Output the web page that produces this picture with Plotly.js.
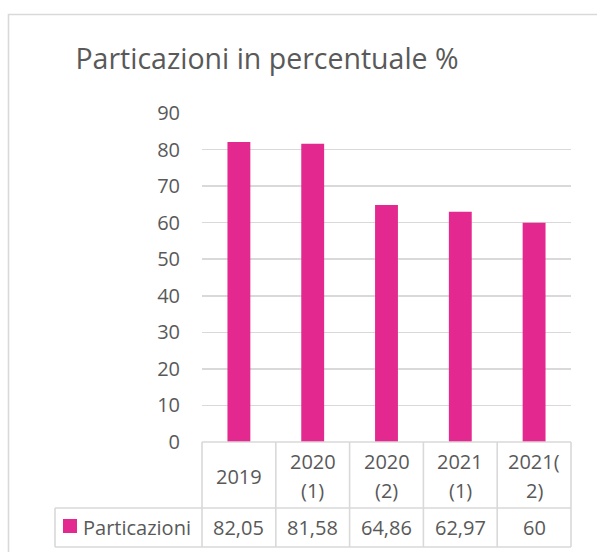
<!DOCTYPE html>
<html>
<head>
<meta charset="utf-8">
<script src="https://cdn.plot.ly/plotly-3.0.1.min.js"></script>
<style>html,body{margin:0;padding:0;background:#fff;}#chart{width:597px;height:552px;}</style>
</head>
<body>
<div id="chart"></div>
<script>
// ---- data ----
var categories = ["2019", "2020 (1)", "2020 (2)", "2021 (1)", "2021(2)"];
var headerLine1 = ["2019", "2020", "2020", "2021", "2021("];
var headerLine2 = ["", "(1)", "(2)", "(1)", "2)"];
var seriesName = "Particazioni";
var values = [82.05, 81.58, 64.86, 62.97, 60];
var valueLabels = ["82,05", "81,58", "64,86", "62,97", "60"];
var titleText = "Particazioni in percentuale %";

// ---- style ----
var W = 597, H = 552;
var mL = 202, mR = 26, mT = 113, mB = 110;
var plotW = W - mL - mR, plotH = H - mT - mB;
var textColor = "#595959";
var lineColor = "#D9D9D9";
var barColor = "#E3298F";
var FONT = "'Open Sans', Lato, sans-serif";
var FS = 20;

function xP(px) { return (px - mL) / plotW; }
function yP(py) { return (H - mB - py) / plotH; }
var n = categories.length;
function catEdge(i) { return i / n; } // paper position of category boundary

var shapes = [];
function line(x0, y0, x1, y1) {
  shapes.push({type: "line", xref: "paper", yref: "paper", x0: x0, y0: y0, x1: x1, y1: y1,
    line: {color: lineColor, width: 1.6}, layer: "above"});
}
// outer frame
shapes.push({type: "rect", xref: "paper", yref: "paper",
  x0: xP(8.5), y0: yP(600), x1: xP(650), y1: yP(14.5),
  line: {color: lineColor, width: 1.6}, fillcolor: "rgba(0,0,0,0)", layer: "below"});
// table
var rowMid = yP(508), rowBot = yP(547), rowTop = 0;
var legendLeft = xP(55);
line(0, rowTop, 1, rowTop);
line(legendLeft, rowMid, 1, rowMid);
line(legendLeft, rowBot, 1, rowBot);
line(legendLeft, rowMid, legendLeft, rowBot);
for (var i = 0; i <= n; i++) line(catEdge(i), rowTop, catEdge(i), rowBot);
// legend key
shapes.push({type: "rect", xref: "paper", yref: "paper",
  x0: xP(63), x1: xP(77), y0: yP(533), y1: yP(519),
  line: {width: 0}, fillcolor: barColor, layer: "above"});

var annotations = [];
function cellText(j, py, txt) {
  annotations.push({x: j, xref: "x", y: yP(py), yref: "paper", text: txt,
    showarrow: false, xanchor: "center", yanchor: "middle",
    font: {family: FONT, size: FS, color: textColor}});
}
for (var j = 0; j < n; j++) {
  if (headerLine2[j] === "") {
    cellText(j, 476, headerLine1[j]);
  } else {
    cellText(j, 462, headerLine1[j]);
    cellText(j, 490, headerLine2[j]);
  }
  cellText(j, 527, valueLabels[j]);
}
annotations.push({x: xP(81), xref: "paper", y: yP(527), yref: "paper", text: seriesName,
  showarrow: false, xanchor: "left", yanchor: "middle", font: {family: FONT, size: FS, color: textColor}});

var trace = {
  type: "bar", x: categories, y: values, name: seriesName,
  marker: {color: barColor, line: {width: 0}}, hoverinfo: "skip"
};

var layout = {
  width: W, height: H,
  margin: {l: mL, r: mR, t: mT, b: mB, pad: 0},
  paper_bgcolor: "#ffffff", plot_bgcolor: "#ffffff",
  showlegend: false,
  bargap: 0.69,
  title: {text: titleText, xref: "container", x: 267 / W, xanchor: "center",
    yref: "container", y: 1 - 59 / H, yanchor: "middle",
    font: {family: FONT, size: 28.5, color: textColor}},
  xaxis: {type: "category", range: [-0.5, n - 0.5], autorange: false, categoryorder: "array",
    categoryarray: categories, showticklabels: false, showgrid: false, zeroline: false,
    showline: false, ticks: "", fixedrange: true},
  yaxis: {range: [0, 90], autorange: false, dtick: 10, tick0: 0, showgrid: true, gridcolor: lineColor, gridwidth: 1.6,
    zeroline: false, showline: false, ticks: "", ticklabelstandoff: 21,
    tickfont: {family: FONT, size: FS, color: textColor}, fixedrange: true},
  shapes: shapes,
  annotations: annotations
};

Plotly.newPlot("chart", [trace], layout, {displayModeBar: false, staticPlot: true});
</script>
</body>
</html>
